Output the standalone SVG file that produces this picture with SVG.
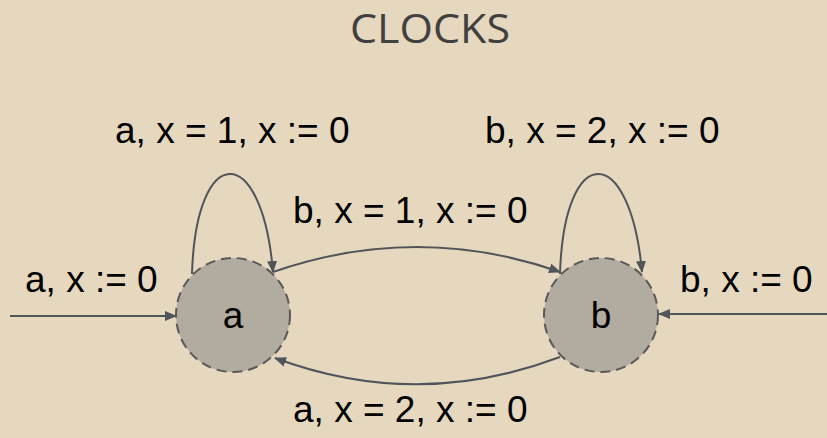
<svg xmlns="http://www.w3.org/2000/svg" width="827" height="438" viewBox="0 0 827 438">
<defs>
<marker id="arr" viewBox="0 0 12 10" refX="11" refY="5" markerWidth="12" markerHeight="10" markerUnits="userSpaceOnUse" orient="auto">
<path d="M0,0 L12,5 L0,10 Z" fill="#50555a"/>
</marker>
<style>
.node{fill:#b2ab9f;stroke:#595959;stroke-width:2;stroke-dasharray:10,6}
.edge{fill:none;stroke:#50555a;stroke-width:2;marker-end:url(#arr)}
.lbl{font-family:"Liberation Sans",Arial,sans-serif;font-size:37px;fill:#000}
.title{font-family:"Open Sans","DejaVu Sans",sans-serif;font-size:40px;fill:#404040}
</style>
</defs>
<rect width="827" height="438" fill="#e6d7bf"/>
<text class="title" x="430" y="43" text-anchor="middle" textLength="160" lengthAdjust="spacingAndGlyphs">CLOCKS</text>
<g id="connectors">
<path class="edge" d="M10,316 L176,316"/>
<path class="edge" d="M827,314 L659,314"/>
<path class="edge" d="M192,274 C196,141 262,141 273,272"/>
<path class="edge" d="M560,274 C564,141 630,141 642,272"/>
<path class="edge" d="M273,272 Q417,222 560,272"/>
<path class="edge" d="M560,357 Q417,411 275,358"/>
</g>
<g id="node-a">
<circle class="node" cx="233" cy="315" r="57"/>
<text class="lbl" x="233" y="328" text-anchor="middle">a</text>
</g>
<g id="node-b">
<circle class="node" cx="601" cy="315" r="57"/>
<text class="lbl" x="601" y="328" text-anchor="middle">b</text>
</g>
<g id="labels">
<text class="lbl" x="115" y="143">a, x = 1, x := 0</text>
<text class="lbl" x="485" y="143">b, x = 2, x := 0</text>
<text class="lbl" x="293" y="223">b, x = 1, x := 0</text>
<text class="lbl" x="293" y="422">a, x = 2, x := 0</text>
<text class="lbl" x="25" y="292">a, x := 0</text>
<text class="lbl" x="680" y="292">b, x := 0</text>
</g>
</svg>
